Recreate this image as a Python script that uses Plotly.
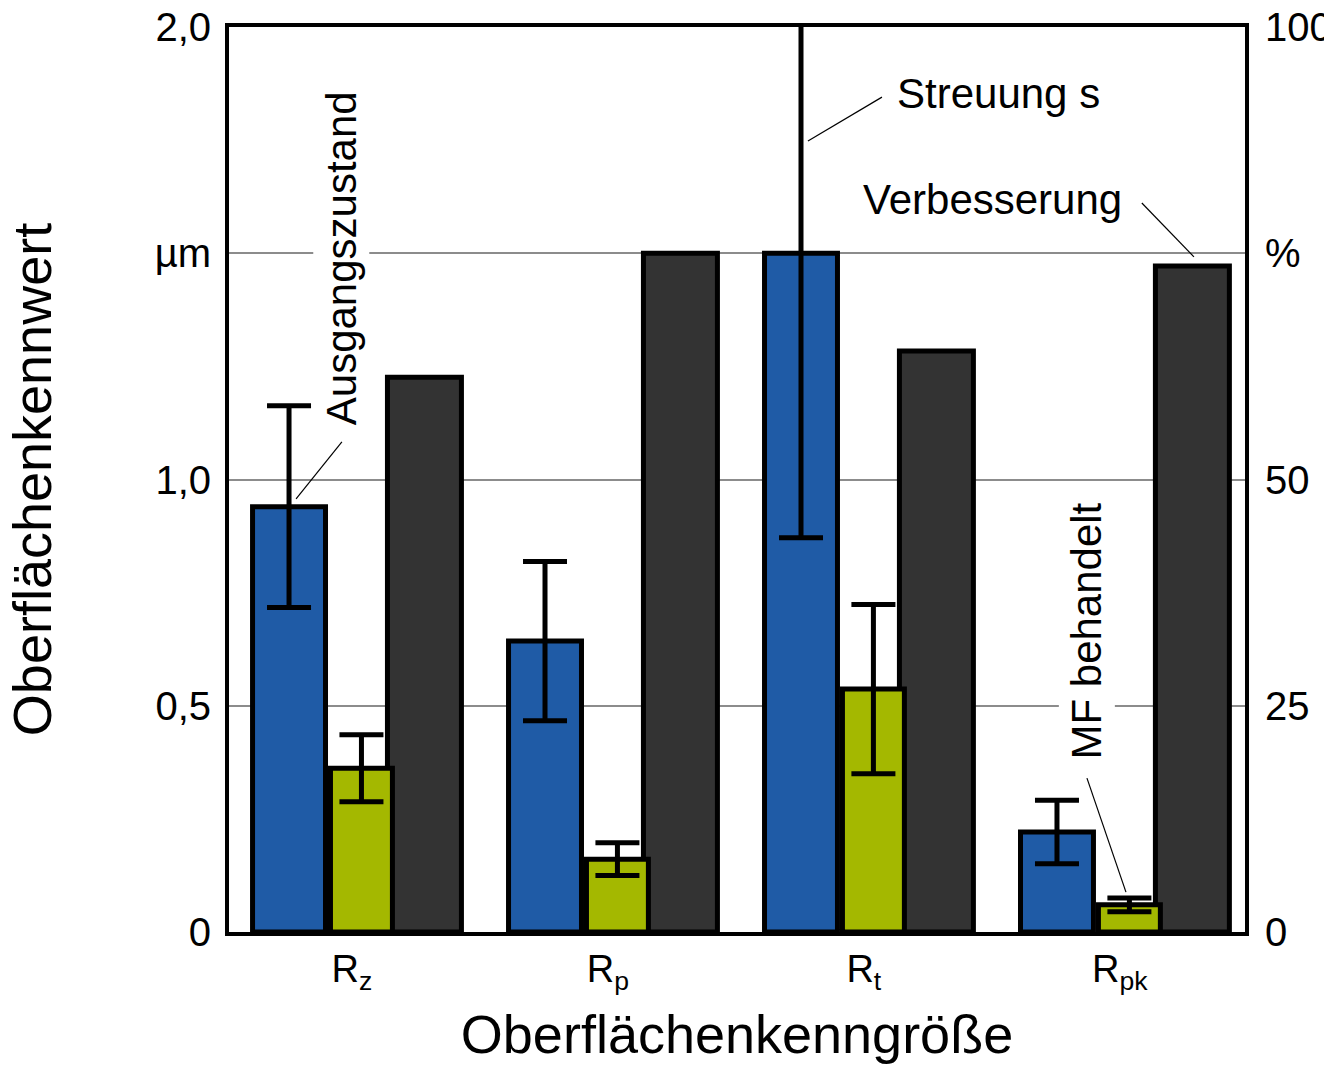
import plotly.graph_objects as go

# Surface parameters on the category axis
kenngroessen = ["R<sub>z</sub>", "R<sub>p</sub>", "R<sub>t</sub>", "R<sub>pk</sub>"]

# Mean values in µm (left axis) and their scatter s
ausgangszustand = [0.94, 0.643, 1.50, 0.221]
ausgangszustand_s = [0.223, 0.176, 0.629, 0.070]
mf_behandelt = [0.362, 0.161, 0.537, 0.060]
mf_behandelt_s = [0.074, 0.036, 0.187, 0.015]

# Improvement in % (right axis)
verbesserung = [61.3, 75.0, 64.2, 73.6]

# Axis tick labels
links_werte = [0, 0.5, 1.0, 1.5, 2.0]
links_text = ["0", "0,5", "1,0", "µm", "2,0"]
rechts_werte = [0, 25, 50, 75, 100]
rechts_text = ["0", "25", "50", "%", "100"]

FONT = "Liberation Sans, Arial, sans-serif"
BLAU = "#1f5ba6"
GRUEN = "#a4b800"
GRAU = "#333333"

pos = list(range(len(kenngroessen)))

fig = go.Figure()

# Improvement bars sit on the primary (right, %) axis so that the
# µm bars on the overlaying axis are drawn on top of them.
fig.add_trace(go.Bar(
    x=pos, y=verbesserung, yaxis="y",
    offset=0.139, width=0.289,
    marker=dict(color=GRAU, line=dict(color="black", width=5)),
    name="Verbesserung",
))

fig.add_trace(go.Bar(
    x=pos, y=ausgangszustand, yaxis="y2",
    offset=-0.388, width=0.285,
    marker=dict(color=BLAU, line=dict(color="black", width=5)),
    error_y=dict(type="data", array=ausgangszustand_s, color="black",
                 thickness=5, width=22),
    name="Ausgangszustand",
))

fig.add_trace(go.Bar(
    x=pos, y=mf_behandelt, yaxis="y2",
    offset=-0.0836, width=0.242,
    marker=dict(color=GRUEN, line=dict(color="black", width=5)),
    error_y=dict(type="data", array=mf_behandelt_s, color="black",
                 thickness=5, width=22),
    name="MF behandelt",
))

# Leader lines from the labels to the marks
leader = [
    ((-0.218, 0.957), (-0.039, 1.083)),
    ((2.8716, 0.340), (3.024, 0.088)),
    ((2.0708, 1.845), (1.7817, 1.748)),
    ((3.086, 1.611), (3.2895, 1.492)),
]
shapes = [
    dict(type="line", xref="x", yref="y2", x0=a[0], y0=a[1], x1=b[0], y1=b[1],
         line=dict(color="black", width=1.2))
    for a, b in leader
]

ann_font = dict(family=FONT, size=42, color="black")
annotations = [
    dict(x=-0.0425, y=1.489, xref="x", yref="y2", text="Ausgangszustand",
         textangle=-90, showarrow=False, bgcolor="white", borderpad=4,
         font=ann_font),
    dict(x=2.8696, y=0.665, xref="x", yref="y2", text="MF behandelt",
         textangle=-90, showarrow=False, bgcolor="white", borderpad=4,
         font=ann_font),
    dict(x=2.5278, y=1.854, xref="x", yref="y2", text="Streuung s",
         showarrow=False, font=ann_font),
    dict(x=2.504, y=1.618, xref="x", yref="y2", text="Verbesserung",
         showarrow=False, font=ann_font),
]

fig.update_layout(
    width=1324, height=1065,
    margin=dict(l=229, r=79, t=27, b=133, autoexpand=False),
    barmode="overlay",
    showlegend=False,
    plot_bgcolor="white", paper_bgcolor="white",
    font=dict(family=FONT, color="black", size=40),
    xaxis=dict(
        range=[-0.48, 3.489], tickmode="array", tickvals=pos, ticktext=kenngroessen,
        showline=True, linecolor="black", linewidth=4, mirror=True,
        showgrid=False, zeroline=False, ticks="",
        tickfont=dict(family=FONT, size=38),
        title=dict(text="Oberflächenkenngröße", font=dict(family=FONT, size=54),
                   standoff=22),
    ),
    yaxis=dict(
        side="right", range=[0, 100], tickmode="array",
        tickvals=rechts_werte, ticktext=rechts_text,
        showgrid=True, gridcolor="#8c8c8c", gridwidth=1.5,
        showline=True, linecolor="black", linewidth=4, mirror=True,
        zeroline=False, ticks="", ticklabelstandoff=8,
        tickfont=dict(family=FONT, size=40),
    ),
    yaxis2=dict(
        overlaying="y", side="left", range=[0, 2], tickmode="array",
        tickvals=links_werte, ticktext=links_text,
        showgrid=False, zeroline=False, showline=False, ticks="",
        ticklabelstandoff=17,
        tickfont=dict(family=FONT, size=40),
        title=dict(text="Oberflächenkennwert", font=dict(family=FONT, size=54),
                   standoff=85),
    ),
    shapes=shapes,
    annotations=annotations,
)

fig.write_html("out.html")
